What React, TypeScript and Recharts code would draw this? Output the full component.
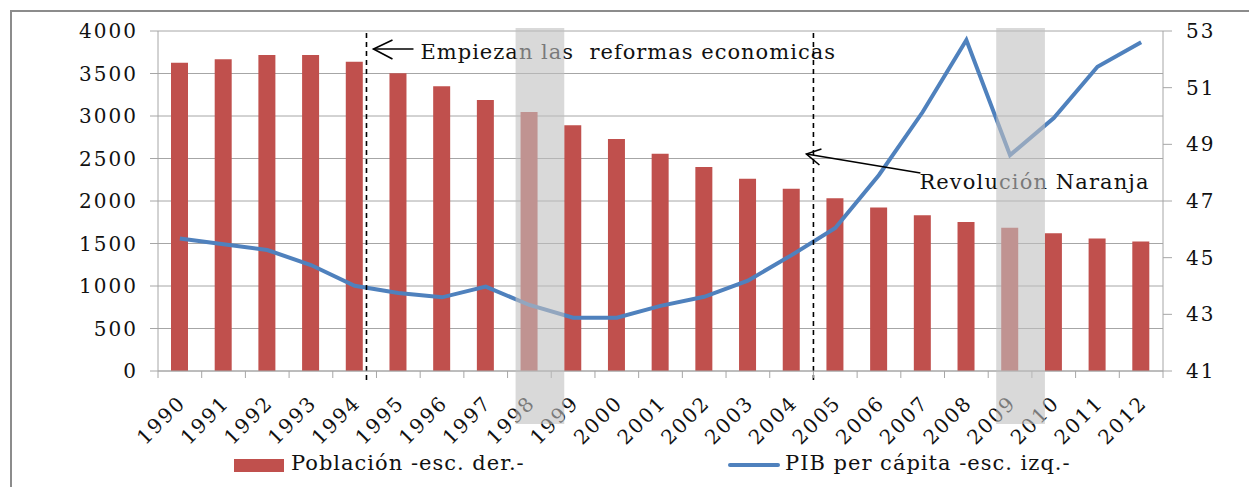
import { ComposedChart, Bar, Line, XAxis, YAxis, CartesianGrid, ReferenceLine, ReferenceArea } from 'recharts';

const years = ['1990', '1991', '1992', '1993', '1994', '1995', '1996', '1997', '1998', '1999', '2000', '2001',
  '2002', '2003', '2004', '2005', '2006', '2007', '2008', '2009', '2010', '2011', '2012'];
const poblacion = [3627, 3667, 3718, 3718, 3639, 3502, 3349, 3188, 3047, 2890, 2729, 2557,
  2400, 2263, 2145, 2031, 1925, 1831, 1753, 1686, 1620, 1560, 1525];
const pib = [45.68, 45.47, 45.27, 44.74, 44.01, 43.75, 43.6, 43.98, 43.33, 42.88, 42.88, 43.3,
  43.62, 44.19, 45.09, 46.05, 47.92, 50.14, 52.68, 48.62, 49.93, 51.74, 52.6];
const leftTicks = [0, 500, 1000, 1500, 2000, 2500, 3000, 3500, 4000];
const rightTicks = [41, 43, 45, 47, 49, 51, 53];
const shadedYears = ['1998', '2009'];

const data = years.map((year, i) => ({ year, poblacion: poblacion[i], pib: pib[i] }));

const W = 1249;
const H = 487;
const PLOT_LEFT = 158;
const PLOT_RIGHT = 1163;
const PLOT_TOP = 31;
const PLOT_BOTTOM = 371;
const BAND = (PLOT_RIGHT - PLOT_LEFT) / years.length;
const FONT = '"DejaVu Serif", serif';
const GRID = '#a6a6a6';

function XTick({ x, payload, index }: any) {
  const left = x - BAND / 2;
  const tx = x + 7;
  const ty = PLOT_BOTTOM + 33;
  return (
    <g>
      <line x1={left} x2={left} y1={PLOT_BOTTOM} y2={PLOT_BOTTOM + 7} stroke={GRID} />
      {index === years.length - 1 && (
        <line x1={x + BAND / 2} x2={x + BAND / 2} y1={PLOT_BOTTOM} y2={PLOT_BOTTOM + 7} stroke={GRID} />
      )}
      <text x={tx} y={ty} transform={`rotate(-45, ${tx}, ${ty})`} textAnchor="end" letterSpacing={2}
        fontSize={20} fontFamily={FONT} fill="#111">{payload.value}</text>
    </g>
  );
}

// dashed marker line with its note drawn next to it
const dashedShape = (dx: number, note: (x: number, top: number) => any) => (props: any) => {
  const x = props.x1 + dx;
  const top = Math.min(props.y1, props.y2);
  const bottom = Math.max(props.y1, props.y2);
  return (
    <g>
      <line x1={x} x2={x} y1={top + 2} y2={bottom + 10} stroke="#000" strokeWidth={1.6} strokeDasharray="5 4" />
      {note(x, top)}
    </g>
  );
};

const reformasNote = (x: number, top: number) => (
  <g>
    <line x1={x + 7} x2={x + 47} y1={top + 18} y2={top + 18} stroke="#000" strokeWidth={1.6} />
    <polyline points={`${x + 26},${top + 9} ${x + 7},${top + 18} ${x + 26},${top + 28}`} fill="none" stroke="#000" strokeWidth={1.6} />
    <text x={x + 54} y={top + 28} fontSize={21} fontFamily={FONT} fill="#111" letterSpacing={1}
      style={{ whiteSpace: 'pre' }}>Empiezan las  reformas economicas</text>
  </g>
);

const naranjaNote = (x: number, top: number) => (
  <g>
    <line x1={x - 7} x2={x + 107} y1={top + 123} y2={top + 142} stroke="#000" strokeWidth={1.6} />
    <polyline points={`${x + 8},${top + 118} ${x - 7},${top + 123} ${x + 6},${top + 134}`} fill="none" stroke="#000" strokeWidth={1.6} />
    <text x={x + 106} y={top + 158} fontSize={21} fontFamily={FONT} fill="#111" letterSpacing={1.1}>Revolución Naranja</text>
  </g>
);

const shadeShape = (props: any) => (
  <rect x={props.x + 8} y={props.y - 3} width={props.width + 5} height={props.height + 56}
    fill="#c0c0c0" fillOpacity={0.6} />
);

const tickFont = { fontSize: 20, fontFamily: FONT, fill: '#111', letterSpacing: 2 };

export default function App() {
  return (
    <div style={{ position: 'absolute', left: 0, top: 0, width: W, height: H, overflow: 'hidden', background: '#fff' }}>
      <div style={{ position: 'absolute', left: 10, top: 10, width: W, height: H, borderLeft: '2px solid #8c8c8c', borderTop: '2px solid #8c8c8c' }} />
      <div style={{ position: 'absolute', left: 0, top: 0 }}>
        <ComposedChart width={W} height={H} data={data}
          margin={{ top: PLOT_TOP, left: PLOT_LEFT - 80, right: W - PLOT_RIGHT - 80, bottom: H - PLOT_BOTTOM - 60 }}>
          <CartesianGrid yAxisId="left" vertical={false} stroke={GRID} />
          <XAxis dataKey="year" interval={0} height={60} tickLine={false} axisLine={{ stroke: GRID }} tick={<XTick />} />
          <YAxis yAxisId="left" width={80} domain={[0, 4000]} ticks={leftTicks} interval={0}
            axisLine={{ stroke: GRID }} tickLine={{ stroke: GRID }} tickSize={8} tickMargin={12}
            tick={tickFont} />
          <YAxis yAxisId="right" orientation="right" width={80} domain={[41, 53]} ticks={rightTicks} interval={0}
            axisLine={{ stroke: GRID }} tickLine={{ stroke: GRID }} tickSize={9} tickMargin={14}
            tick={{ ...tickFont, textAnchor: 'start' }} />
          <Bar yAxisId="left" dataKey="poblacion" fill="#C0504D" barSize={17} isAnimationActive={false} />
          <Line yAxisId="right" dataKey="pib" type="linear" stroke="#4F81BD" strokeWidth={4} dot={false} isAnimationActive={false} />
          <ReferenceLine yAxisId="left" x="1994" position="end" zIndex={450} shape={dashedShape(-10, reformasNote)} />
          <ReferenceLine yAxisId="left" x="2004" position="end" zIndex={450} shape={dashedShape(0, naranjaNote)} />
          {shadedYears.map((y) => (
            <ReferenceArea key={y} yAxisId="left" x1={y} x2={y} zIndex={3000} shape={shadeShape} />
          ))}
        </ComposedChart>
      </div>
      <div style={{ position: 'absolute', left: 234, top: 459, width: 50, height: 13, background: '#C0504D' }} />
      <div style={{ position: 'absolute', left: 291, top: 451, fontSize: 21, letterSpacing: 1, fontFamily: FONT, color: '#111', whiteSpace: 'pre' }}>Población -esc. der.-</div>
      <div style={{ position: 'absolute', left: 728, top: 463, width: 52, height: 4, borderRadius: 2, background: '#4F81BD' }} />
      <div style={{ position: 'absolute', left: 785, top: 451, fontSize: 21, letterSpacing: 1, fontFamily: FONT, color: '#111', whiteSpace: 'pre' }}>PIB per cápita -esc. izq.-</div>
    </div>
  );
}
